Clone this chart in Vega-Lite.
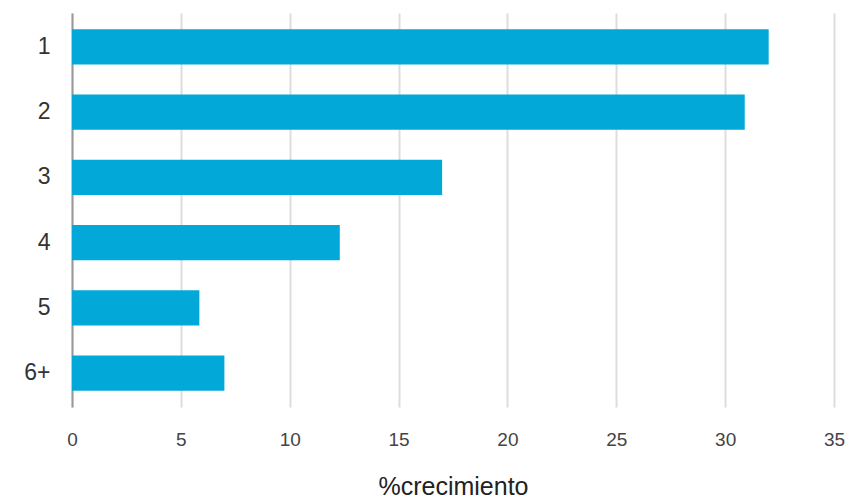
{
  "$schema": "https://vega.github.io/schema/vega-lite/v6.json",
  "autosize": "none",
  "width": 762,
  "height": 394,
  "padding": {"left": 72, "top": 13, "right": 22, "bottom": 93},
  "background": "white",
  "data": {"values": [
    {"cat": "1", "value": 32.0},
    {"cat": "2", "value": 30.9},
    {"cat": "3", "value": 17.0},
    {"cat": "4", "value": 12.3},
    {"cat": "5", "value": 5.85},
    {"cat": "6+", "value": 7.0}
  ]},
  "config": {
    "font": "Liberation Sans",
    "view": {"stroke": null}
  },
  "mark": {"type": "bar", "color": "#02a9d8"},
  "encoding": {
    "y": {
      "field": "cat", "type": "nominal", "sort": null,
      "scale": {"paddingInner": 0.46, "paddingOuter": 0.25},
      "axis": {
        "title": null, "ticks": false, "grid": false,
        "domainColor": "#999999", "domainWidth": 2,
        "labelFontSize": 23, "labelColor": "#333333", "labelPadding": 22
      }
    },
    "x": {
      "field": "value", "type": "quantitative",
      "scale": {"domain": [0, 35], "nice": false},
      "axis": {
        "values": [0, 5, 10, 15, 20, 25, 30, 35],
        "title": "%crecimiento", "titleFontSize": 25, "titleFontWeight": "normal",
        "titleColor": "#222222", "titlePadding": 25,
        "domain": false, "ticks": false, "grid": true,
        "gridColor": "#dddddd", "gridWidth": 2,
        "labelFlush": false,
        "labelFontSize": 19, "labelColor": "#444444", "labelPadding": 23
      }
    }
  }
}
